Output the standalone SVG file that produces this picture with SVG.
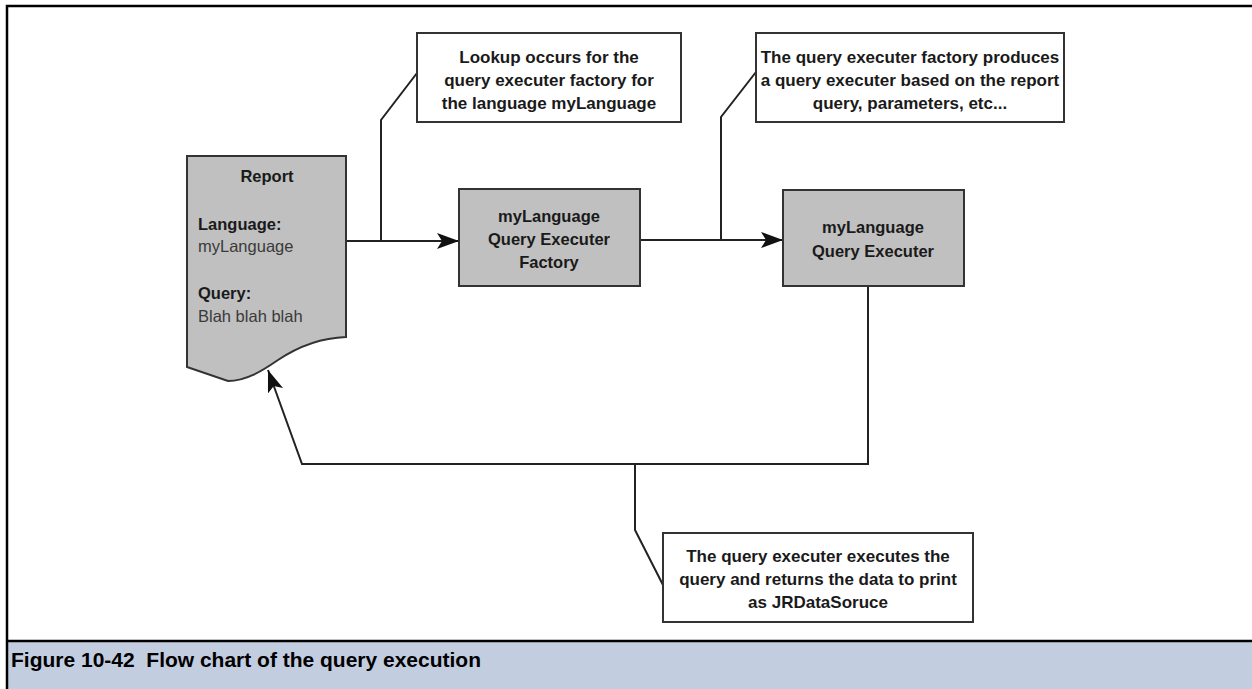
<svg xmlns="http://www.w3.org/2000/svg" width="1252" height="689" viewBox="0 0 1252 689">
<style>
.t{font-family:"Liberation Sans",Arial,sans-serif;font-size:17px;fill:#1a1a1a}
.n{font-size:16.5px}
.b{font-weight:bold}
.r{fill:#3a3a3a}
.m{text-anchor:middle}
.cap{font-family:"Liberation Sans",Arial,sans-serif;font-size:21px;font-weight:bold;fill:#000}
.node{fill:#c0c0c0;stroke:#333;stroke-width:2}
.call{fill:#fff;stroke:#333;stroke-width:2}
.ln{fill:none;stroke:#222;stroke-width:2}
</style>
<defs>
<marker id="ah" markerUnits="userSpaceOnUse" markerWidth="24" markerHeight="18" refX="22" refY="8" orient="auto">
<path d="M0,0 L22,8 L0,16 L5,8 Z" fill="#111"/>
</marker>
</defs>
<rect x="0" y="0" width="1252" height="689" fill="#fff"/>
<rect x="7" y="642" width="1245" height="47" fill="#c3cde0"/>
<path d="M7,689 V6 H1252" fill="none" stroke="#000" stroke-width="2.5"/>
<line x1="7" y1="641" x2="1252" y2="641" stroke="#000" stroke-width="2.5"/>
<text class="cap" x="11" y="667" textLength="470" lengthAdjust="spacingAndGlyphs">Figure 10-42&#160; Flow chart of the query execution</text>

<g id="connectors">
<line class="ln" x1="346" y1="241" x2="459" y2="241" marker-end="url(#ah)"/>
<polyline class="ln" points="381,241 381,120 417,73"/>
<line class="ln" x1="640" y1="240" x2="783" y2="240" marker-end="url(#ah)"/>
<polyline class="ln" points="721,240 721,117 756,72"/>
<polyline class="ln" points="868,286 868,464 302,464 268,370" marker-end="url(#ah)"/>
<polyline class="ln" points="635,464 635,530 663,585"/>
</g>

<g id="report">
<path class="node" d="M187,156 H346 V337 C318,338 296,348 278,360 C262,371 246,381 228,381 L187,367 Z"/>
<text class="t n b m" x="267" y="182">Report</text>
<text class="t n b" x="198" y="230">Language:</text>
<text class="t n r" x="198" y="252">myLanguage</text>
<text class="t n b" x="198" y="299">Query:</text>
<text class="t n r" x="198" y="322">Blah blah blah</text>
</g>

<g id="factory">
<rect class="node" x="459" y="189" width="181" height="97"/>
<text class="t n b m" x="549" y="222">myLanguage</text>
<text class="t n b m" x="549" y="245">Query Executer</text>
<text class="t n b m" x="549" y="268">Factory</text>
</g>

<g id="executer">
<rect class="node" x="783" y="190" width="181" height="96"/>
<text class="t n b m" x="873" y="233">myLanguage</text>
<text class="t n b m" x="873" y="257">Query Executer</text>
</g>

<g id="note-lookup">
<rect class="call" x="417" y="33" width="264" height="89"/>
<text class="t b m" x="549" y="63">Lookup occurs for the</text>
<text class="t b m" x="549" y="86">query executer factory for</text>
<text class="t b m" x="549" y="109">the language myLanguage</text>
</g>

<g id="note-produce">
<rect class="call" x="756" y="33" width="308" height="89"/>
<text class="t b m" x="910" y="63">The query executer factory produces</text>
<text class="t b m" x="910" y="86">a query executer based on the report</text>
<text class="t b m" x="910" y="109">query, parameters, etc...</text>
</g>

<g id="note-execute">
<rect class="call" x="663" y="533" width="310" height="89"/>
<text class="t b m" x="818" y="562">The query executer executes the</text>
<text class="t b m" x="818" y="585">query and returns the data to print</text>
<text class="t b m" x="818" y="608">as JRDataSoruce</text>
</g>
</svg>
